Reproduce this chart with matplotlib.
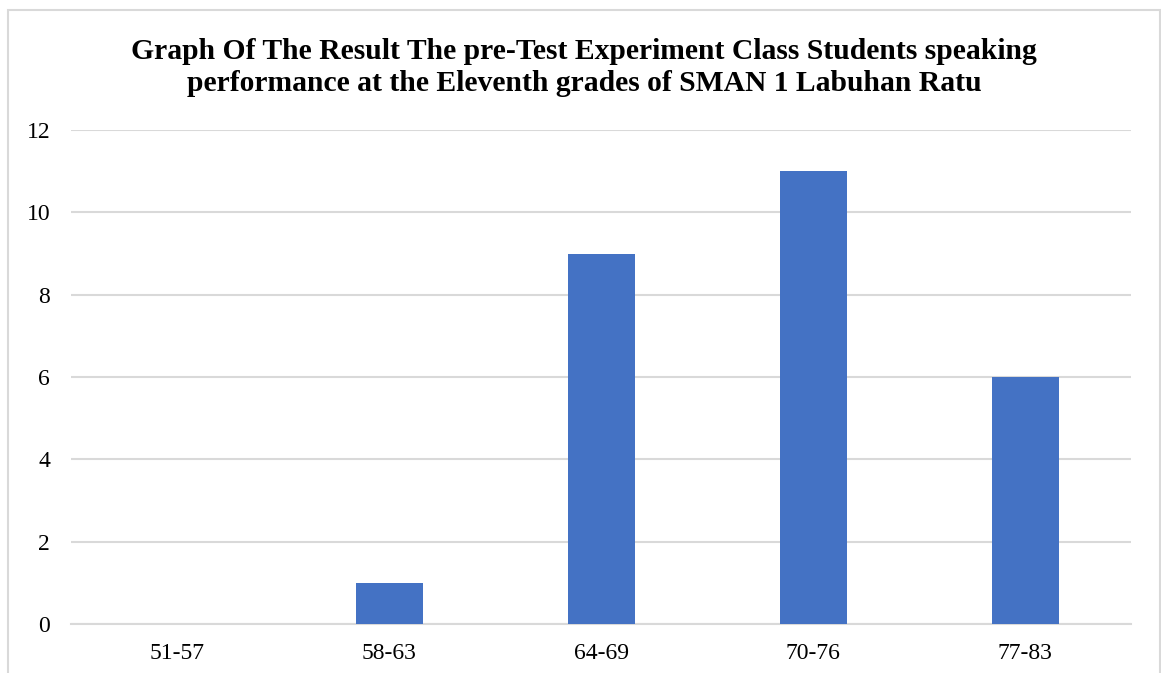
import matplotlib.pyplot as plt
from matplotlib.patches import Rectangle

# score ranges and number of students in each
score_ranges = ['51-57', '58-63', '64-69', '70-76', '77-83']
students = [0, 1, 9, 11, 6]
y_ticks = [0, 2, 4, 6, 8, 10, 12]

plt.rcParams['font.family'] = ['Liberation Serif', 'DejaVu Serif']

fig = plt.figure(figsize=(11.61, 6.73), dpi=100)
ax = fig.add_axes([0.0612, 0.0728, 0.913, 0.734])

# outer frame around the chart area
fig.patches.append(Rectangle((8 / 1161, -0.1), 1152 / 1161, 1.1 - 10 / 673,
                             transform=fig.transFigure, fill=False,
                             edgecolor='#d9d9d9', linewidth=1.5))

x = range(len(score_ranges))
ax.bar(x, students, width=0.316, color='#4472C4', zorder=3)

ax.set_xlim(-0.5, len(score_ranges) - 0.5)
ax.set_ylim(0, 12)
ax.set_yticks(y_ticks)
ax.set_xticks(list(x))
ax.set_xticklabels(score_ranges)
ax.yaxis.grid(True, color='#d9d9d9', linewidth=1.5, zorder=0)
ax.tick_params(axis='both', length=0, labelsize=17, colors='#000000')
ax.tick_params(axis='y', pad=15)
ax.tick_params(axis='x', pad=14)
for side in ['top', 'right', 'left']:
    ax.spines[side].set_visible(False)
ax.spines['bottom'].set_color('#d9d9d9')
ax.spines['bottom'].set_linewidth(1.5)

fig.text(0.503, 0.899,
         'Graph Of The Result The pre-Test Experiment Class Students speaking\n'
         'performance at the Eleventh grades of SMAN 1 Labuhan Ratu',
         ha='center', va='center', fontsize=21.3, fontweight='bold',
         linespacing=1.24)

fig.savefig('out.png', dpi=100)
